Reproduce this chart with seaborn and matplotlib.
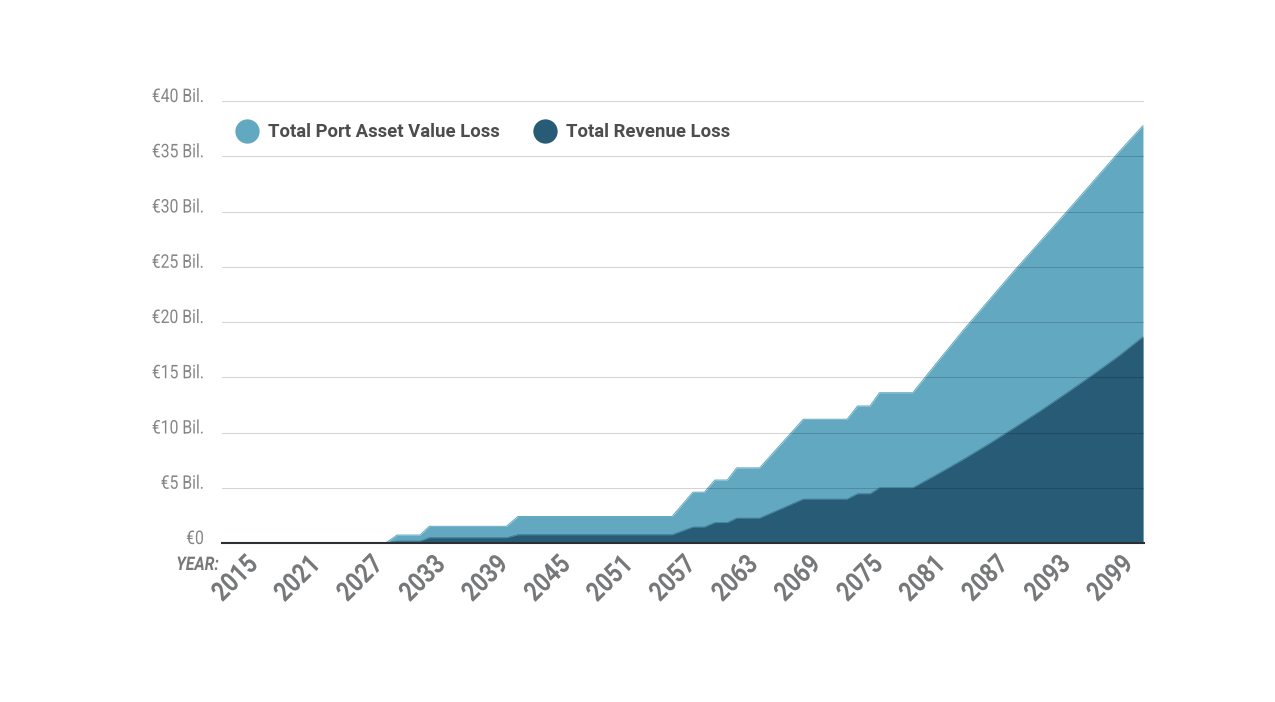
import numpy as np
import pandas as pd
import matplotlib
matplotlib.use("Agg")
import matplotlib.pyplot as plt
import matplotlib.patheffects as pe
import matplotlib.transforms as mtransforms
from matplotlib.lines import Line2D
import seaborn as sns

# values (billions of euro)
years = [2013.9, 2029.6, 2030.7, 2032.9, 2033.8, 2041.2, 2042.3, 2057.1, 2059.1, 2060.2,
         2061.2, 2062.4, 2063.3, 2065.5, 2069.7, 2073.9, 2074.9, 2076.1, 2077.0, 2080.2,
         2082.5, 2085.0, 2087.5, 2090.0, 2092.5, 2095.0, 2097.5, 2100.0, 2102.3]
asset_loss = [0, 0, 0.72, 0.72, 1.51, 1.51, 2.4, 2.4, 4.6, 4.6,
              5.7, 5.7, 6.8, 6.8, 11.2, 11.2, 12.4, 12.4, 13.6, 13.6,
              16.3, 19.2, 21.95, 24.7, 27.35, 30.0, 32.7, 35.4, 37.77]
revenue_loss = [0, 0, 0.18, 0.18, 0.48, 0.48, 0.75, 0.75, 1.45, 1.45,
                1.85, 1.85, 2.26, 2.26, 3.98, 3.98, 4.46, 4.46, 5.0, 5.0,
                6.2, 7.55, 8.97, 10.47, 12.0, 13.6, 15.25, 16.95, 18.67]

year_ticks = list(range(2015, 2100, 6))
value_ticks = [0, 5, 10, 15, 20, 25, 30, 35, 40]
value_labels = ["€0", "€5 Bil.", "€10 Bil.", "€15 Bil.", "€20 Bil.",
                "€25 Bil.", "€30 Bil.", "€35 Bil.", "€40 Bil."]

LIGHT = "#62a8c1"
DARK = "#275b76"


# no condensed Roboto installed, so squeeze the glyphs along the text direction
class Condense(pe.AbstractPathEffect):
    def __init__(self, factor, anchor):
        super().__init__()
        self.factor = factor
        self.anchor = anchor  # 0 left, 0.5 centre, 1 right

    def draw_path(self, renderer, gc, tpath, affine, rgbFace=None):
        ext = tpath.get_extents()
        x0 = ext.x0 + self.anchor * ext.width
        squeeze = mtransforms.Affine2D().translate(-x0, 0).scale(self.factor, 1).translate(x0, 0)
        renderer.draw_path(gc, tpath, squeeze + affine, rgbFace)


df = pd.DataFrame({"year": years, "asset": asset_loss, "revenue": revenue_loss})

sns.set_theme(style="white")
plt.rcParams["font.family"] = ["Roboto", "DejaVu Sans"]

fig = plt.figure(figsize=(12.75, 7.02), dpi=100)
ax = fig.add_axes([222 / 1275, 1 - 543 / 702, 922 / 1275, 442 / 702])

sns.lineplot(data=df, x="year", y="asset", color=LIGHT, lw=0.7, ax=ax, zorder=2)
ax.fill_between(df["year"], df["asset"], color=LIGHT, lw=0, zorder=2)
sns.lineplot(data=df, x="year", y="revenue", color=DARK, lw=0.3, ax=ax, zorder=3)
ax.fill_between(df["year"], df["revenue"], color=DARK, lw=0, zorder=3)

ax.set_xlim(2013.9, 2102.4)
ax.set_ylim(0, 40)
ax.set_xlabel("")
ax.set_ylabel("")

# gridlines sit on top of the areas, they show through faintly
for v in value_ticks[1:]:
    ax.axhline(v, color="black", alpha=0.17, lw=0.75, zorder=4)

sns.despine(ax=ax, left=True, top=True, right=True)
ax.spines["bottom"].set_color("#2b2f33")
ax.spines["bottom"].set_linewidth(1.5)
ax.spines["bottom"].set_zorder(5)

ax.set_yticks(value_ticks)
ax.set_yticklabels(value_labels, fontsize=13.5, color="#858585")
ax.tick_params(axis="y", length=0, pad=13)
shift = mtransforms.ScaledTranslation(0, 6 / 100, fig.dpi_scale_trans)
for lab in ax.get_yticklabels():
    lab.set_transform(lab.get_transform() + shift)
    lab.set_path_effects([Condense(0.84, 1)])

ax.set_xticks(year_ticks)
ax.set_xticklabels(year_ticks, fontsize=19.5, fontweight="bold",
                   color="#77787a", rotation=45, ha="center", va="top")
ax.tick_params(axis="x", length=0, pad=3)
shift_x = mtransforms.ScaledTranslation(2 / 100, 0, fig.dpi_scale_trans)
for lab in ax.get_xticklabels():
    lab.set_transform(lab.get_transform() + shift_x)
    lab.set_path_effects([Condense(0.84, 0.5)])

ax.text(-3 / 922, -22 / 442, "YEAR:", transform=ax.transAxes, ha="right", va="center",
        fontsize=13.5, fontweight="bold", style="italic", color="#77787a",
        path_effects=[Condense(0.84, 1)])

handles = [Line2D([], [], ls="", marker="o", ms=17.5, color=LIGHT, mew=0),
           Line2D([], [], ls="", marker="o", ms=17.5, color=DARK, mew=0)]
ax.legend(handles, ["Total Port Asset Value Loss", "Total Revenue Loss"],
          loc="center left", bbox_to_anchor=(16 / 922, 1 - 31 / 442), ncol=2, frameon=False,
          prop={"family": "Roboto", "weight": "bold", "size": 13.3},
          labelcolor="#4d4d4d", handletextpad=0.62, columnspacing=1.95, borderaxespad=0,
          borderpad=0, handlelength=1.0)
ax.get_legend().set_zorder(6)

fig.savefig("out.png", dpi=100, facecolor="white")
